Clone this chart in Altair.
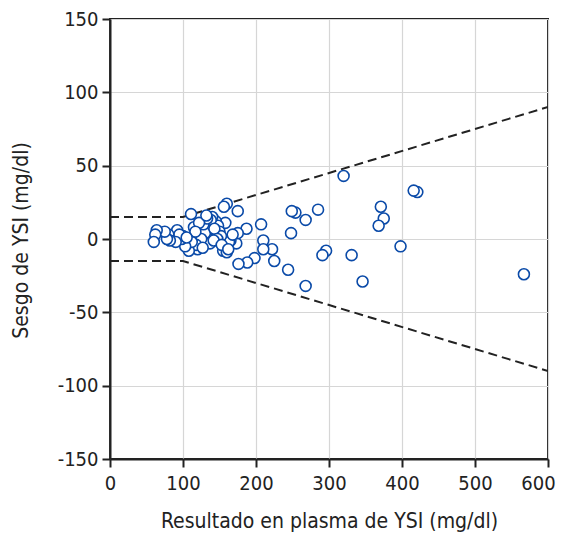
import altair as alt
import pandas as pd

x_vals = [567, 421, 416, 398, 375, 371, 368, 346, 331, 320, 296, 291, 285, 268, 268,
          254, 249, 248, 244, 225, 222, 210, 210, 207, 198, 188, 187, 176, 175, 173, 175,
          165, 163, 160, 156, 158, 155, 160, 145, 148, 150, 140, 138, 135, 137, 130, 128,
          125, 120, 118, 115, 111, 108, 110, 112, 100, 103, 98, 92, 95, 90, 80, 82, 78,
          75, 64, 62, 60, 152, 143, 133, 127, 122, 147, 168, 142, 132, 117, 105, 153, 162]
y_vals = [-24, 32, 33, -5, 14, 22, 9, -29, -11, 43, -8, -11, 20, 13, -32,
          18, 19, 4, -21, -15, -7, -1, -7, 10, -13, -16, 7, -17, 19, -3, 4,
          -1, -2, 24, 22, 11, -8, -9, 12, 9, 5, 15, 13, 0, -3, 4, 10,
          0, -7, -4, 8, 17, -8, -2, -2, 2, -5, 0, 6, 3, -2, 3, -1, 0,
          5, 6, 3, -2, 2, 7, 14, -6, 11, 0, 3, -1, 16, 5, 1, -4, -7]

upper_x = [0, 100, 600]
upper_y = [15, 15, 90]
lower_y = [-15, -15, -90]

x_ticks = [0, 100, 200, 300, 400, 500, 600]
y_ticks = [-150, -100, -50, 0, 50, 100, 150]

pts = pd.DataFrame({"x": x_vals, "y": y_vals})
lim = pd.DataFrame({"x": upper_x * 2, "y": upper_y + lower_y,
                    "g": ["u"] * 3 + ["l"] * 3})

xs = alt.Scale(domain=[0, 600], nice=False)
ys = alt.Scale(domain=[-150, 150], nice=False)

FONT = "Liberation Sans Narrow, DejaVu Sans Condensed, Roboto"

lines = alt.Chart(lim).mark_line(color="#222222", strokeDash=[9, 5], strokeWidth=2, clip=True).encode(
    x=alt.X("x:Q", scale=xs),
    y=alt.Y("y:Q", scale=ys),
    detail="g:N",
)

points = alt.Chart(pts).mark_point(
    shape="circle", size=120, filled=False, fill="white", fillOpacity=1,
    color="#0a4aa8", strokeWidth=1.6, opacity=1
).encode(
    x=alt.X("x:Q", scale=xs,
            axis=alt.Axis(title="Resultado en plasma de YSI (mg/dl)", values=x_ticks,
                          labelExpr="'' + datum.value", labelPadding=6, labelFlush=False,
                          labelOffset={"condition": {"test": "datum.value === 600", "value": -10}, "value": 0},
                          titleBaseline="alphabetic", titleY=68)),
    y=alt.Y("y:Q", scale=ys,
            axis=alt.Axis(title="Sesgo de YSI (mg/dl)", values=y_ticks,
                          labelExpr="'' + datum.value", labelPadding=4, labelFlush=False,
                          titleBaseline="alphabetic", titleX=-83, titleY=221)),
)

chart = alt.layer(lines, points).properties(
    width=438, height=440,
    autosize=alt.AutoSizeParams(type="none"),
    padding={"left": 102, "top": 11, "right": 9, "bottom": 73},
).configure_view(
    stroke="#222222", strokeWidth=2
).configure_axis(
    labelFont=FONT, titleFont=FONT, labelFontSize=20, titleFontSize=21,
    labelColor="#222222", titleColor="#222222", titleFontWeight="normal",
    domainColor="#222222", domainWidth=2, tickColor="#222222", tickWidth=2, tickSize=8,
    gridColor="#d6d6d6", gridWidth=1.2,
)

chart.save("out.html", embed_options={"renderer": "svg", "actions": False})
